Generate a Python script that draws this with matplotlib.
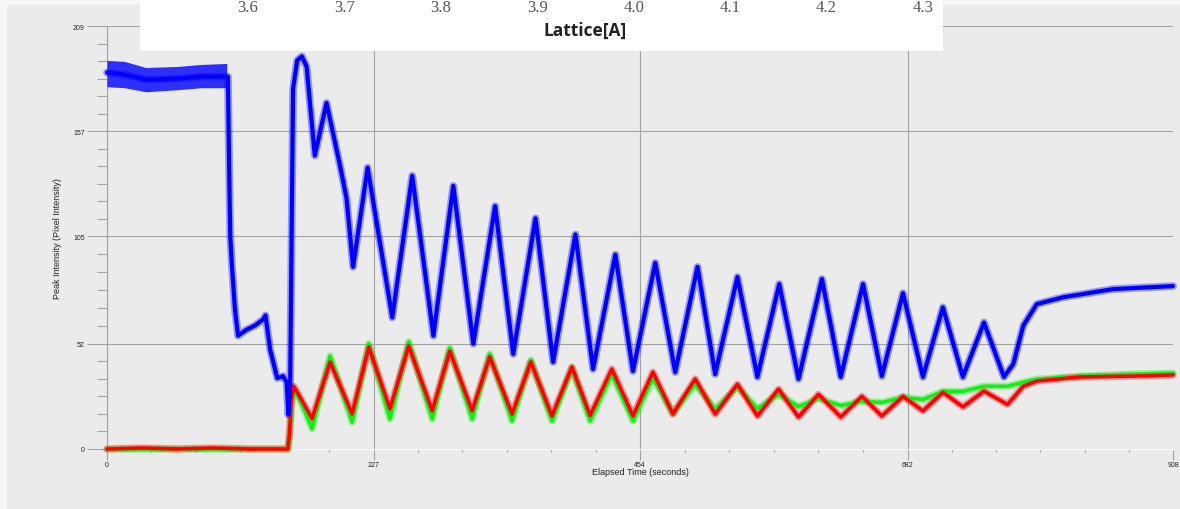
import numpy as np
import matplotlib
matplotlib.use("Agg")
import matplotlib.pyplot as plt
from matplotlib.patches import Rectangle

# ---- RHEED peak intensity traces (elapsed time in s, intensity in pixel units) ----
blue_t = [0, 15, 33, 60, 80, 102, 103, 104, 105, 106.5, 109, 111.6, 119, 126, 133,
          135, 139, 145, 150, 153, 154.5, 156, 157.5, 158.5, 162, 166, 170, 177,
          187, 198.5, 204, 209.6, 222, 243, 260, 278, 295, 312, 330.6, 346, 365,
          380, 399, 414, 433, 448, 467, 484, 503, 518, 537, 554, 572.6, 589, 609,
          625, 644, 660, 678, 695, 712, 729, 747, 764, 772, 780.5, 792, 814.6,
          857, 908]
blue_v = [186, 185, 182.5, 183, 184, 184, 184, 140, 105, 90, 69, 56, 59, 61, 64,
          66, 49, 35, 36, 33, 17, 30, 120, 178, 192, 194, 189, 145,
          171, 140, 124, 90, 139, 65, 135, 56, 130, 52, 120, 47, 114,
          43, 106, 39.5, 96, 38.5, 92, 38, 90, 37, 85, 35.6, 81.5, 34.6, 84,
          35.6, 81.5, 36, 77, 35.6, 70, 35.6, 62.5, 35.6, 42, 61, 71.6, 75,
          79, 80.5]

# noise envelope of the blue trace on the initial plateau
plateau_t = [0, 15, 33, 60, 80, 102]
plateau_lo = [179, 178.5, 176.5, 177.5, 178.5, 178.5]
plateau_hi = [192, 191.5, 188.5, 189, 190, 190.5]

red_t = [0, 30, 60, 90, 120, 154, 155.5, 157, 159, 163, 174.7, 190, 208.8, 223,
         241, 257, 277, 292, 311, 326, 345, 361, 379, 396, 411.5, 430, 448, 465,
         482, 501, 518, 537, 554, 572, 589, 606, 625, 643, 660, 678, 695, 712,
         729, 747, 767, 780.5, 792, 829, 871.6, 908]
red_v = [0, 0.5, 0, 0.5, 0, 0, 8, 24, 31, 27, 15, 43, 17.3, 50.4,
         19.8, 51, 18.8, 48.4, 18.8, 45.5, 17.3, 43, 16.3, 40.5, 16.5, 39.5, 16.3, 38,
         17.3, 34.6, 17.3, 32, 16.3, 29.6, 15.8, 27, 15.8, 26, 16.3, 26, 18.8, 28,
         20.8, 28.6, 22, 31, 33.6, 35.6, 36, 36.6]

green_t = [0, 154, 155.5, 157, 159, 163, 174.7, 190, 208.8, 223, 241, 257, 277,
           292, 311, 326, 345, 361, 379, 396, 411.5, 430, 448, 465, 482, 501, 518,
           537, 554, 572, 589, 606, 625, 643, 660, 678, 695, 712, 729, 747, 767,
           780.5, 792, 829, 871.6, 908]
green_v = [0, 0, 6, 20, 29, 26, 10, 46, 13.3, 52, 14.8, 53, 14.8,
           50, 14.8, 47, 13.8, 44, 13.8, 40, 13.8, 37, 13.8, 35, 17.5, 32, 19.8,
           30.6, 20, 27, 21, 25, 21.5, 23.5, 23, 25.5, 24.5, 28.5, 28.5, 31, 31,
           33, 34.5, 36, 37, 37.5]

x_major = [0, 227, 454, 682, 908]
y_major = [0, 52, 105, 157, 209]

lattice_ticks = [3.6, 3.7, 3.8, 3.9, 4.0, 4.1, 4.2, 4.3]

# ---- figure ----
W, H = 1180, 510
BG = "#ebebeb"
GRID = "#a3a3a3"
fig = plt.figure(figsize=(W / 100, H / 100), dpi=100, facecolor=BG)

# light outer margins
fig.add_artist(Rectangle((0, 0), 7 / W, 1, transform=fig.transFigure,
                         facecolor="#f6f6f6", edgecolor="none", zorder=0))
fig.add_artist(Rectangle((0, 1 - 6 / H), 1, 6 / H, transform=fig.transFigure,
                         facecolor="#f6f6f6", edgecolor="none", zorder=0))

ax = fig.add_axes([107 / W, 60 / H, 1066 / W, 423 / H])
ax.set_facecolor(BG)
ax.set_xlim(x_major[0], x_major[-1])
ax.set_ylim(y_major[0], y_major[-1])

series = [(green_t, green_v, "#12f012", 2.6),
          (red_t, red_v, "#ff0000", 2.6),
          (blue_t, blue_v, "#0000ff", 3.0)]
for t, v, c, lw in series:
    ax.plot(t, v, color=c, lw=lw + 2.6, alpha=0.35, solid_joinstyle="round",
            solid_capstyle="round", clip_on=False, zorder=3)
    ax.plot(t, v, color=c, lw=lw, solid_joinstyle="round",
            solid_capstyle="round", clip_on=False, zorder=4)
ax.fill_between(plateau_t, plateau_lo, plateau_hi, color="#0000ff",
                alpha=0.8, lw=0, zorder=4)

# ticks
ax.set_xticks(x_major)
ax.set_xticklabels([str(v) for v in x_major])
ax.set_yticks(y_major)
ax.set_yticklabels([str(v) for v in y_major])
x_minor = np.concatenate([np.linspace(a, b, 7)[1:-1]
                          for a, b in zip(x_major[:-1], x_major[1:])])
y_minor = np.concatenate([np.linspace(a, b, 7)[1:-1]
                          for a, b in zip(y_major[:-1], y_major[1:])])
ax.set_xticks(x_minor, minor=True)
ax.set_yticks(y_minor, minor=True)

for lab in ax.get_xticklabels() + ax.get_yticklabels():
    lab.set_fontfamily("Liberation Sans")
    lab.set_fontsize(5)
ax.tick_params(axis="y", which="major", length=14.4, width=0.8, color=GRID,
               pad=1.5, labelcolor="#222222")
ax.tick_params(axis="y", which="minor", length=7.2, width=0.8, color=GRID)
ax.tick_params(axis="x", which="major", length=8, width=0.8, color=GRID,
               pad=0.5, labelcolor="#222222")
ax.tick_params(axis="x", which="minor", length=2.2, width=0.8, color=GRID)

ax.grid(True, which="major", color=GRID, lw=0.8, zorder=1)
ax.set_axisbelow(True)
ax.get_xgridlines()[-1].set_visible(False)

for side in ("top", "right"):
    ax.spines[side].set_visible(False)
ax.spines["left"].set_color(GRID)
ax.spines["left"].set_linewidth(0.8)
ax.spines["bottom"].set_color("#fafafa")
ax.spines["bottom"].set_linewidth(1.0)

ax.set_xlabel("Elapsed Time (seconds)", family="Liberation Sans", fontsize=6.5,
              color="#222222", va="center")
ax.xaxis.set_label_coords(0.5, -23 / 423)
ax.set_ylabel("Peak Intensity (Pixel Intensity)", family="Liberation Sans",
              fontsize=6.5, color="#222222", va="center")
ax.yaxis.set_label_coords(-50 / 1066, 0.5)

# ---- lattice-constant strip along the top ----
bx0, bx1, bh = 140, 943, 52
lat = fig.add_axes([bx0 / W, 1 - bh / H, (bx1 - bx0) / W, bh / H], zorder=10)
lat.set_facecolor("white")
for s in lat.spines.values():
    s.set_visible(False)
px_per_unit = 964.0
lat.set_xlim(3.6 + (bx0 - 248) / px_per_unit, 3.6 + (bx1 - 248) / px_per_unit)
lat.set_ylim(0, 1)
lat.set_xticks([])
lat.set_yticks([])
for v in lattice_ticks:
    lat.text(v, 1 - 12 / bh, f"{v:.1f}", transform=lat.get_xaxis_transform(),
             ha="center", va="baseline", family="Liberation Serif",
             fontsize=12, color="#555555")
lat.text(np.mean([lattice_ticks[0], lattice_ticks[-1]]), (bh - 31) / bh,
         "Lattice[A]", transform=lat.get_xaxis_transform(), ha="center",
         va="center", family="Open Sans", fontweight="bold", fontsize=12.5,
         color="#222222")

fig.savefig("out.png", dpi=100, facecolor=BG)
